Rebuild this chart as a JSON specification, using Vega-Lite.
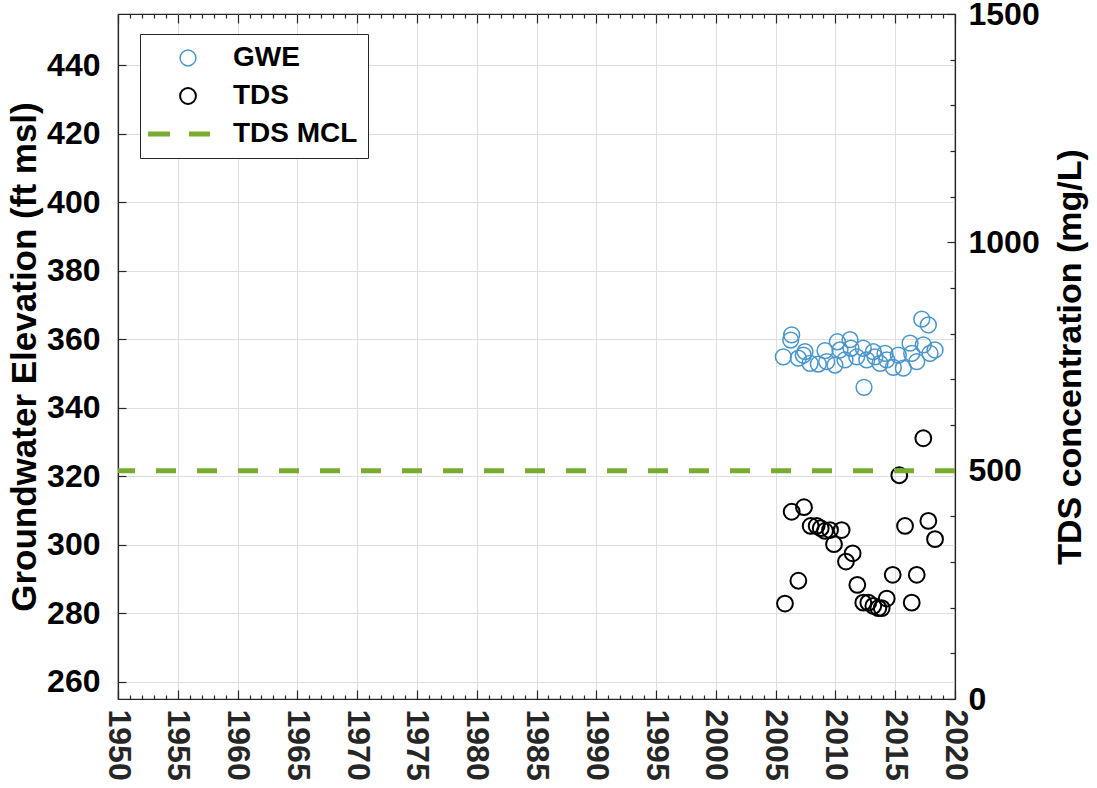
{
  "$schema": "https://vega.github.io/schema/vega-lite/v6.json",
  "width": 837,
  "height": 685,
  "autosize": {"type": "none"},
  "padding": {"left": 118, "top": 14, "right": 142, "bottom": 89},
  "background": "white",
  "title": {"text": "210000000000_MW-3A", "font": "Liberation Sans", "fontSize": 38, "fontWeight": "bold", "color": "#000000", "baseline": "alphabetic", "offset": 9.5},
  "config": {
    "view": {"stroke": "#262626", "strokeWidth": 1.2},
    "font": "Liberation Sans",
    "axis": {
      "labelFont": "Liberation Sans", "labelFontWeight": "bold", "labelFontSize": 32, "labelColor": "#000000",
      "titleFont": "Liberation Sans", "titleFontWeight": "bold", "titleFontSize": 35, "titleColor": "#000000",
      "domainColor": "#262626", "domainWidth": 1.2, "tickColor": "#262626", "tickWidth": 1.2,
      "gridColor": "#dedede", "gridWidth": 1
    },
    "legend": {
      "orient": "none", "legendX": 22, "legendY": 20, "title": null,
      "labelFont": "Liberation Sans", "labelFontSize": 28, "labelFontWeight": "bold", "labelColor": "#000000",
      "strokeColor": "#262626", "fillColor": "#ffffff", "padding": 10, "rowPadding": 10,
      "symbolSize": 250, "symbolOffset": 24, "labelOffset": 31, "symbolFillColor": "transparent"
    }
  },
  "datasets": {
    "gwe": [
      {"year": 2005.64, "gwe": 354.9, "series": "GWE"},
      {"year": 2006.34, "gwe": 361.3, "series": "GWE"},
      {"year": 2006.26, "gwe": 359.8, "series": "GWE"},
      {"year": 2006.90, "gwe": 354.5, "series": "GWE"},
      {"year": 2007.31, "gwe": 355.4, "series": "GWE"},
      {"year": 2007.46, "gwe": 356.4, "series": "GWE"},
      {"year": 2007.88, "gwe": 353.0, "series": "GWE"},
      {"year": 2008.57, "gwe": 352.8, "series": "GWE"},
      {"year": 2009.13, "gwe": 356.7, "series": "GWE"},
      {"year": 2009.27, "gwe": 353.5, "series": "GWE"},
      {"year": 2009.96, "gwe": 352.5, "series": "GWE"},
      {"year": 2010.16, "gwe": 359.3, "series": "GWE"},
      {"year": 2010.38, "gwe": 356.9, "series": "GWE"},
      {"year": 2010.80, "gwe": 354.0, "series": "GWE"},
      {"year": 2011.22, "gwe": 359.9, "series": "GWE"},
      {"year": 2011.30, "gwe": 357.4, "series": "GWE"},
      {"year": 2011.78, "gwe": 354.9, "series": "GWE"},
      {"year": 2012.33, "gwe": 357.4, "series": "GWE"},
      {"year": 2012.39, "gwe": 346.0, "series": "GWE"},
      {"year": 2012.62, "gwe": 354.0, "series": "GWE"},
      {"year": 2013.17, "gwe": 356.4, "series": "GWE"},
      {"year": 2013.31, "gwe": 354.9, "series": "GWE"},
      {"year": 2013.73, "gwe": 353.0, "series": "GWE"},
      {"year": 2014.15, "gwe": 355.9, "series": "GWE"},
      {"year": 2014.29, "gwe": 354.0, "series": "GWE"},
      {"year": 2014.84, "gwe": 351.8, "series": "GWE"},
      {"year": 2015.26, "gwe": 355.4, "series": "GWE"},
      {"year": 2015.68, "gwe": 351.6, "series": "GWE"},
      {"year": 2016.24, "gwe": 358.9, "series": "GWE"},
      {"year": 2016.38, "gwe": 355.9, "series": "GWE"},
      {"year": 2016.80, "gwe": 353.5, "series": "GWE"},
      {"year": 2017.35, "gwe": 358.4, "series": "GWE"},
      {"year": 2017.22, "gwe": 365.9, "series": "GWE"},
      {"year": 2017.77, "gwe": 364.2, "series": "GWE"},
      {"year": 2017.91, "gwe": 355.9, "series": "GWE"},
      {"year": 2018.33, "gwe": 356.9, "series": "GWE"}
    ],
    "tds": [
      {"year": 2005.78, "tds": 209, "series": "TDS"},
      {"year": 2006.34, "tds": 410, "series": "TDS"},
      {"year": 2006.90, "tds": 259, "series": "TDS"},
      {"year": 2007.37, "tds": 420, "series": "TDS"},
      {"year": 2007.93, "tds": 379, "series": "TDS"},
      {"year": 2008.43, "tds": 379, "series": "TDS"},
      {"year": 2008.77, "tds": 374, "series": "TDS"},
      {"year": 2009.13, "tds": 368, "series": "TDS"},
      {"year": 2009.55, "tds": 370, "series": "TDS"},
      {"year": 2009.88, "tds": 339, "series": "TDS"},
      {"year": 2010.52, "tds": 370, "series": "TDS"},
      {"year": 2010.88, "tds": 301, "series": "TDS"},
      {"year": 2011.44, "tds": 319, "series": "TDS"},
      {"year": 2011.83, "tds": 250, "series": "TDS"},
      {"year": 2012.33, "tds": 211, "series": "TDS"},
      {"year": 2012.75, "tds": 211, "series": "TDS"},
      {"year": 2013.17, "tds": 204, "series": "TDS"},
      {"year": 2013.59, "tds": 199, "series": "TDS"},
      {"year": 2013.87, "tds": 199, "series": "TDS"},
      {"year": 2014.29, "tds": 220, "series": "TDS"},
      {"year": 2014.79, "tds": 272, "series": "TDS"},
      {"year": 2015.34, "tds": 490, "series": "TDS"},
      {"year": 2015.82, "tds": 379, "series": "TDS"},
      {"year": 2016.38, "tds": 211, "series": "TDS"},
      {"year": 2016.80, "tds": 272, "series": "TDS"},
      {"year": 2017.35, "tds": 571, "series": "TDS"},
      {"year": 2017.77, "tds": 390, "series": "TDS"},
      {"year": 2018.33, "tds": 350, "series": "TDS"}
    ],
    "mcl": [
      {"tds": 500, "series": "TDS MCL"}
    ]
  },
  "layer": [
    {
      "data": {"name": "gwe"},
      "mark": {"type": "point", "filled": false, "size": 250, "opacity": 1},
      "encoding": {
        "x": {
          "field": "year", "type": "quantitative",
          "scale": {"domain": [1950, 2020], "nice": false, "zero": false},
          "axis": {
            "orient": "bottom", "title": null,
            "values": [1950,1951,1952,1953,1954,1955,1956,1957,1958,1959,1960,1961,1962,1963,1964,1965,1966,1967,1968,1969,1970,1971,1972,1973,1974,1975,1976,1977,1978,1979,1980,1981,1982,1983,1984,1985,1986,1987,1988,1989,1990,1991,1992,1993,1994,1995,1996,1997,1998,1999,2000,2001,2002,2003,2004,2005,2006,2007,2008,2009,2010,2011,2012,2013,2014,2015,2016,2017,2018,2019,2020],
            "format": "d",
            "labelExpr": "datum.value % 5 === 0 ? datum.label : ''",
            "labelAngle": 90, "labelAlign": "left", "labelBaseline": "middle",
            "labelFlush": false, "labelOverlap": false, "labelPadding": 19,
            "labelColor": "#262626",
            "tickSize": {"condition": {"test": "datum.value % 5 === 0", "value": -9}, "value": -4},
            "grid": true,
            "gridOpacity": {"condition": {"test": "datum.value % 5 === 0", "value": 1}, "value": 0}
          }
        },
        "y": {
          "field": "gwe", "type": "quantitative",
          "scale": {"domain": [255, 455], "nice": false, "zero": false},
          "axis": {
            "orient": "left", "title": "Groundwater Elevation (ft msl)",
            "values": [260, 280, 300, 320, 340, 360, 380, 400, 420, 440],
            "tickSize": -8, "labelPadding": 26, "titlePadding": 4, "grid": true
          }
        },
        "color": {
          "field": "series", "type": "nominal",
          "scale": {"domain": ["GWE", "TDS", "TDS MCL"], "range": ["#4b96cc", "#000000", "#77ac30"]}
        },
        "shape": {
          "field": "series", "type": "nominal",
          "scale": {"domain": ["GWE", "TDS", "TDS MCL"], "range": ["circle", "circle", "M-5.06,0H-2.28M0.13,0H2.78"]}
        },
        "strokeWidth": {
          "field": "series", "type": "nominal",
          "scale": {"type": "ordinal", "domain": ["GWE", "TDS", "TDS MCL"], "range": [1.5, 2, 5]}
        }
      }
    },
    {
      "data": {"name": "tds"},
      "mark": {"type": "point", "filled": false, "size": 250, "opacity": 1},
      "encoding": {
        "x": {
          "field": "year", "type": "quantitative",
          "scale": {"domain": [1950, 2020], "nice": false, "zero": false},
          "axis": {
            "orient": "top", "title": null, "labels": false, "domain": false, "grid": false,
            "values": [1950,1951,1952,1953,1954,1955,1956,1957,1958,1959,1960,1961,1962,1963,1964,1965,1966,1967,1968,1969,1970,1971,1972,1973,1974,1975,1976,1977,1978,1979,1980,1981,1982,1983,1984,1985,1986,1987,1988,1989,1990,1991,1992,1993,1994,1995,1996,1997,1998,1999,2000,2001,2002,2003,2004,2005,2006,2007,2008,2009,2010,2011,2012,2013,2014,2015,2016,2017,2018,2019,2020],
            "tickSize": {"condition": {"test": "datum.value % 5 === 0", "value": -9}, "value": -4}
          }
        },
        "y": {
          "field": "tds", "type": "quantitative",
          "scale": {"domain": [0, 1500], "nice": false, "zero": false},
          "axis": {
            "orient": "right", "title": "TDS concentration (mg/L)",
            "values": [0,100,200,300,400,500,600,700,800,900,1000,1100,1200,1300,1400,1500],
            "format": "d",
            "labelExpr": "datum.value % 500 === 0 ? datum.label : ''",
            "labelOverlap": false, "labelFlush": false, "labelPadding": 21,
            "tickSize": {"condition": {"test": "datum.value % 500 === 0", "value": -8}, "value": -5},
            "grid": false, "titleFontSize": 34,
            "titleAngle": 270, "titleBaseline": "top", "titlePadding": 14
          }
        },
        "color": {
          "field": "series", "type": "nominal",
          "scale": {"domain": ["GWE", "TDS", "TDS MCL"], "range": ["#4b96cc", "#000000", "#77ac30"]}
        },
        "shape": {
          "field": "series", "type": "nominal",
          "scale": {"domain": ["GWE", "TDS", "TDS MCL"], "range": ["circle", "circle", "M-5.06,0H-2.28M0.13,0H2.78"]}
        },
        "strokeWidth": {
          "field": "series", "type": "nominal",
          "scale": {"type": "ordinal", "domain": ["GWE", "TDS", "TDS MCL"], "range": [1.5, 2, 5]}
        }
      }
    },
    {
      "data": {"name": "mcl"},
      "mark": {"type": "rule", "strokeDash": [20, 21]},
      "encoding": {
        "y": {"field": "tds", "type": "quantitative", "scale": {"domain": [0, 1500], "nice": false, "zero": false}, "axis": null},
        "color": {
          "field": "series", "type": "nominal",
          "scale": {"domain": ["GWE", "TDS", "TDS MCL"], "range": ["#4b96cc", "#000000", "#77ac30"]}
        },
        "strokeWidth": {
          "field": "series", "type": "nominal",
          "scale": {"type": "ordinal", "domain": ["GWE", "TDS", "TDS MCL"], "range": [1.5, 2, 5]}
        }
      }
    }
  ],
  "resolve": {"scale": {"y": "independent"}, "axis": {"x": "independent", "y": "independent"}}
}
